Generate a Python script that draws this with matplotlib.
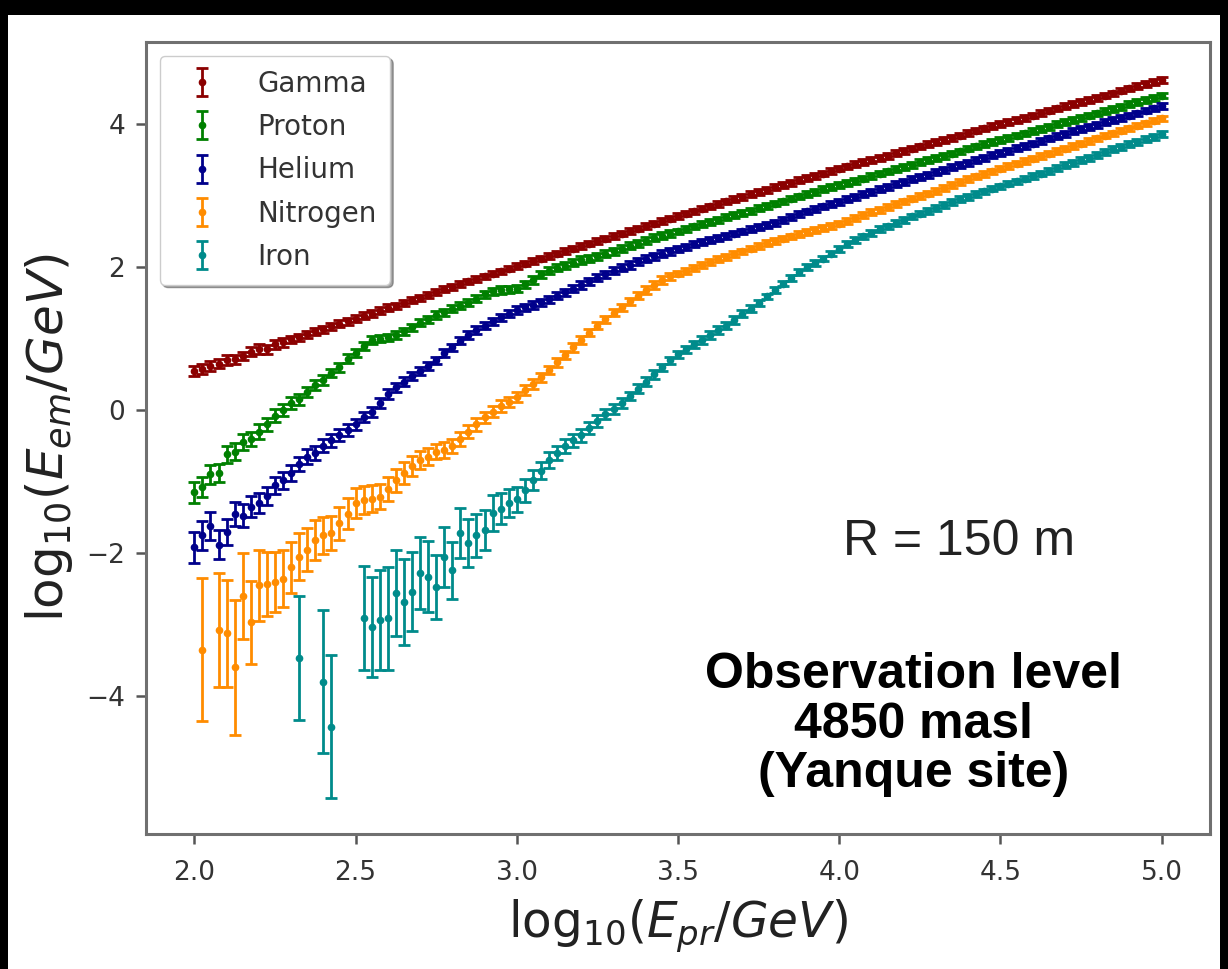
import numpy as np
import matplotlib
matplotlib.use("Agg")
import matplotlib.pyplot as plt
from matplotlib.patches import Rectangle

nan = np.nan

# energy bins (log10 of primary energy)
log_E_pr = np.round(np.linspace(2.0, 5.0, 121), 3)

gamma = [
    0.55, 0.58, 0.62, 0.65, 0.70, 0.71, 0.76, 0.82, 0.86, 0.85, 0.92, 0.95, 0.99, 1.02, 1.06, 1.10, 1.13, 1.17, 1.21, 1.24,
    1.28, 1.32, 1.35, 1.39, 1.43, 1.46, 1.50, 1.54, 1.57, 1.61, 1.65, 1.69, 1.72, 1.76, 1.80, 1.83, 1.87, 1.91, 1.94, 1.98,
    2.02, 2.05, 2.09, 2.12, 2.16, 2.19, 2.23, 2.26, 2.30, 2.33, 2.37, 2.40, 2.44, 2.47, 2.51, 2.54, 2.58, 2.61, 2.65, 2.68,
    2.72, 2.75, 2.78, 2.82, 2.85, 2.88, 2.92, 2.95, 2.98, 3.02, 3.05, 3.08, 3.12, 3.15, 3.18, 3.22, 3.25, 3.28, 3.31, 3.35,
    3.38, 3.41, 3.44, 3.47, 3.50, 3.53, 3.56, 3.60, 3.63, 3.66, 3.69, 3.72, 3.75, 3.78, 3.81, 3.84, 3.88, 3.91, 3.94, 3.97,
    4.00, 4.03, 4.06, 4.09, 4.12, 4.16, 4.19, 4.22, 4.25, 4.28, 4.31, 4.34, 4.37, 4.40, 4.43, 4.47, 4.50, 4.53, 4.56, 4.59,
    4.62,
]
gamma_err = [
    0.07, 0.07, 0.07, 0.06, 0.07, 0.06, 0.06, 0.06, 0.07, 0.06, 0.06, 0.06, 0.05, 0.05, 0.05, 0.05, 0.05, 0.05, 0.05, 0.05,
    0.05, 0.05, 0.05, 0.05, 0.05, 0.04, 0.04, 0.04, 0.04, 0.04, 0.04, 0.04, 0.04, 0.04, 0.04, 0.04, 0.04, 0.04, 0.04, 0.04,
    0.04, 0.04, 0.04, 0.04, 0.04, 0.04, 0.04, 0.04, 0.04, 0.04, 0.04, 0.04, 0.04, 0.04, 0.04, 0.04, 0.04, 0.04, 0.04, 0.04,
    0.04, 0.04, 0.04, 0.04, 0.04, 0.04, 0.04, 0.04, 0.04, 0.04, 0.04, 0.04, 0.04, 0.04, 0.04, 0.04, 0.04, 0.04, 0.04, 0.04,
    0.04, 0.04, 0.04, 0.04, 0.04, 0.04, 0.04, 0.04, 0.04, 0.04, 0.04, 0.04, 0.04, 0.04, 0.04, 0.04, 0.04, 0.04, 0.04, 0.04,
    0.04, 0.04, 0.04, 0.04, 0.04, 0.04, 0.04, 0.04, 0.04, 0.04, 0.04, 0.04, 0.04, 0.04, 0.04, 0.04, 0.04, 0.04, 0.04, 0.04,
    0.04,
]

proton = [
    -1.15, -1.08, -0.90, -0.88, -0.62, -0.58, -0.45, -0.40, -0.30, -0.20, -0.08, 0.00, 0.10, 0.15, 0.25, 0.35, 0.42, 0.52, 0.60, 0.72,
    0.80, 0.90, 0.98, 1.00, 1.02, 1.05, 1.10, 1.16, 1.22, 1.27, 1.33, 1.37, 1.42, 1.46, 1.50, 1.56, 1.62, 1.66, 1.68, 1.69,
    1.70, 1.76, 1.82, 1.90, 1.95, 1.99, 2.02, 2.06, 2.10, 2.12, 2.15, 2.19, 2.22, 2.26, 2.30, 2.33, 2.37, 2.41, 2.44, 2.47,
    2.50, 2.53, 2.57, 2.60, 2.63, 2.66, 2.70, 2.73, 2.76, 2.79, 2.83, 2.86, 2.89, 2.92, 2.96, 2.99, 3.02, 3.05, 3.09, 3.12,
    3.15, 3.18, 3.21, 3.24, 3.28, 3.31, 3.34, 3.37, 3.40, 3.43, 3.47, 3.50, 3.53, 3.56, 3.59, 3.62, 3.66, 3.69, 3.72, 3.75,
    3.78, 3.81, 3.84, 3.87, 3.90, 3.93, 3.96, 4.00, 4.03, 4.06, 4.09, 4.12, 4.15, 4.18, 4.21, 4.24, 4.28, 4.31, 4.34, 4.37,
    4.40,
]
proton_err = [
    0.15, 0.14, 0.13, 0.13, 0.12, 0.12, 0.11, 0.10, 0.10, 0.09, 0.09, 0.08, 0.08, 0.08, 0.07, 0.07, 0.07, 0.06, 0.06, 0.06,
    0.06, 0.06, 0.05, 0.05, 0.05, 0.05, 0.05, 0.05, 0.05, 0.05, 0.05, 0.05, 0.05, 0.05, 0.05, 0.05, 0.05, 0.05, 0.05, 0.05,
    0.05, 0.05, 0.05, 0.05, 0.05, 0.05, 0.05, 0.05, 0.05, 0.05, 0.05, 0.05, 0.05, 0.05, 0.05, 0.05, 0.05, 0.05, 0.05, 0.05,
    0.04, 0.04, 0.04, 0.04, 0.04, 0.04, 0.04, 0.04, 0.04, 0.04, 0.04, 0.04, 0.04, 0.04, 0.04, 0.04, 0.04, 0.04, 0.04, 0.04,
    0.04, 0.04, 0.04, 0.04, 0.04, 0.04, 0.04, 0.04, 0.04, 0.04, 0.04, 0.04, 0.04, 0.04, 0.04, 0.04, 0.04, 0.04, 0.04, 0.04,
    0.04, 0.04, 0.04, 0.04, 0.04, 0.04, 0.04, 0.04, 0.04, 0.04, 0.04, 0.04, 0.04, 0.04, 0.04, 0.04, 0.04, 0.04, 0.04, 0.04,
    0.04,
]

helium = [
    -1.92, -1.75, -1.62, -1.88, -1.70, -1.45, -1.48, -1.35, -1.30, -1.20, -1.05, -0.98, -0.88, -0.75, -0.65, -0.60, -0.50, -0.42, -0.35, -0.28,
    -0.20, -0.10, -0.02, 0.10, 0.22, 0.32, 0.40, 0.48, 0.55, 0.62, 0.70, 0.80, 0.88, 0.97, 1.05, 1.12, 1.18, 1.24, 1.30, 1.35,
    1.40, 1.44, 1.47, 1.51, 1.55, 1.60, 1.65, 1.70, 1.75, 1.80, 1.85, 1.90, 1.95, 1.99, 2.03, 2.08, 2.12, 2.15, 2.19, 2.22,
    2.25, 2.28, 2.32, 2.35, 2.38, 2.41, 2.44, 2.47, 2.50, 2.53, 2.56, 2.59, 2.62, 2.66, 2.70, 2.74, 2.78, 2.81, 2.85, 2.88,
    2.91, 2.95, 2.98, 3.02, 3.05, 3.09, 3.12, 3.16, 3.19, 3.23, 3.26, 3.29, 3.33, 3.36, 3.40, 3.43, 3.46, 3.50, 3.53, 3.57,
    3.60, 3.63, 3.67, 3.70, 3.73, 3.76, 3.80, 3.83, 3.86, 3.90, 3.93, 3.96, 3.99, 4.03, 4.06, 4.09, 4.12, 4.15, 4.19, 4.22,
    4.25,
]
helium_err = [
    0.22, 0.20, 0.19, 0.20, 0.18, 0.17, 0.16, 0.15, 0.14, 0.13, 0.12, 0.12, 0.11, 0.10, 0.10, 0.10, 0.09, 0.09, 0.08, 0.08,
    0.08, 0.07, 0.07, 0.07, 0.07, 0.06, 0.06, 0.06, 0.06, 0.06, 0.05, 0.05, 0.05, 0.05, 0.05, 0.05, 0.05, 0.05, 0.05, 0.05,
    0.05, 0.05, 0.05, 0.05, 0.05, 0.05, 0.05, 0.05, 0.05, 0.05, 0.05, 0.05, 0.05, 0.05, 0.05, 0.05, 0.05, 0.05, 0.05, 0.05,
    0.04, 0.04, 0.04, 0.04, 0.04, 0.04, 0.04, 0.04, 0.04, 0.04, 0.04, 0.04, 0.04, 0.04, 0.04, 0.04, 0.04, 0.04, 0.04, 0.04,
    0.04, 0.04, 0.04, 0.04, 0.04, 0.04, 0.04, 0.04, 0.04, 0.04, 0.04, 0.04, 0.04, 0.04, 0.04, 0.04, 0.04, 0.04, 0.04, 0.04,
    0.04, 0.04, 0.04, 0.04, 0.04, 0.04, 0.04, 0.04, 0.04, 0.04, 0.04, 0.04, 0.04, 0.04, 0.04, 0.04, 0.04, 0.04, 0.04, 0.04,
    0.04,
]

nitrogen = [
    nan, -3.35, nan, -3.08, -3.12, -3.60, -2.60, -2.97, -2.45, -2.43, -2.40, -2.36, -2.20, -2.05, -1.95, -1.82, -1.75, -1.72, -1.58, -1.45,
    -1.30, -1.26, -1.24, -1.21, -1.10, -0.98, -0.88, -0.78, -0.70, -0.65, -0.58, -0.56, -0.50, -0.40, -0.30, -0.20, -0.10, -0.02, 0.06, 0.12,
    0.18, 0.28, 0.37, 0.46, 0.56, 0.67, 0.77, 0.88, 0.98, 1.08, 1.18, 1.27, 1.36, 1.44, 1.52, 1.60, 1.68, 1.75, 1.82, 1.87,
    1.91, 1.95, 1.99, 2.03, 2.07, 2.11, 2.14, 2.18, 2.22, 2.26, 2.30, 2.34, 2.37, 2.40, 2.43, 2.46, 2.49, 2.52, 2.55, 2.58,
    2.61, 2.65, 2.69, 2.73, 2.77, 2.80, 2.84, 2.88, 2.92, 2.96, 3.00, 3.03, 3.07, 3.11, 3.15, 3.19, 3.23, 3.27, 3.30, 3.34,
    3.38, 3.42, 3.45, 3.49, 3.52, 3.56, 3.59, 3.63, 3.66, 3.70, 3.73, 3.77, 3.80, 3.84, 3.87, 3.91, 3.94, 3.98, 4.01, 4.05,
    4.08,
]
nitrogen_err = [
    nan, 1.00, nan, 0.80, 0.75, 0.95, 0.60, 0.58, 0.50, 0.45, 0.42, 0.40, 0.36, 0.33, 0.30, 0.28, 0.26, 0.24, 0.23, 0.22,
    0.21, 0.20, 0.19, 0.18, 0.17, 0.16, 0.15, 0.14, 0.13, 0.12, 0.11, 0.11, 0.10, 0.10, 0.09, 0.09, 0.08, 0.08, 0.08, 0.07,
    0.07, 0.07, 0.07, 0.06, 0.06, 0.06, 0.06, 0.06, 0.05, 0.05, 0.05, 0.05, 0.05, 0.05, 0.05, 0.05, 0.05, 0.05, 0.05, 0.05,
    0.04, 0.04, 0.04, 0.04, 0.04, 0.04, 0.04, 0.04, 0.04, 0.04, 0.04, 0.04, 0.04, 0.04, 0.04, 0.04, 0.04, 0.04, 0.04, 0.04,
    0.04, 0.04, 0.04, 0.04, 0.04, 0.04, 0.04, 0.04, 0.04, 0.04, 0.04, 0.04, 0.04, 0.04, 0.04, 0.04, 0.04, 0.04, 0.04, 0.04,
    0.04, 0.04, 0.04, 0.04, 0.04, 0.04, 0.04, 0.04, 0.04, 0.04, 0.04, 0.04, 0.04, 0.04, 0.04, 0.04, 0.04, 0.04, 0.04, 0.04,
    0.04,
]

iron = [
    nan, nan, nan, nan, nan, nan, nan, nan, nan, nan, nan, nan, nan, -3.47, nan, nan, -3.80, -4.43, nan, nan,
    nan, -2.91, -3.03, -2.94, -2.91, -2.56, -2.68, -2.54, -2.28, -2.33, -2.47, -2.05, -2.24, -1.72, -1.86, -1.75, -1.68, -1.44, -1.38, -1.30,
    -1.25, -1.12, -0.98, -0.85, -0.70, -0.60, -0.50, -0.42, -0.35, -0.25, -0.15, -0.06, 0.02, 0.10, 0.20, 0.30, 0.40, 0.50, 0.60, 0.70,
    0.78, 0.85, 0.92, 0.98, 1.05, 1.12, 1.18, 1.26, 1.35, 1.42, 1.50, 1.59, 1.68, 1.77, 1.85, 1.93, 2.00, 2.06, 2.12, 2.19,
    2.25, 2.32, 2.38, 2.43, 2.48, 2.53, 2.57, 2.62, 2.66, 2.71, 2.75, 2.79, 2.83, 2.87, 2.91, 2.95, 2.98, 3.02, 3.06, 3.10,
    3.13, 3.17, 3.20, 3.24, 3.28, 3.31, 3.35, 3.39, 3.43, 3.46, 3.50, 3.53, 3.57, 3.61, 3.65, 3.68, 3.72, 3.75, 3.79, 3.82,
    3.86,
]
iron_err = [
    nan, nan, nan, nan, nan, nan, nan, nan, nan, nan, nan, nan, nan, 0.87, nan, nan, 1.00, 1.00, nan, nan,
    nan, 0.73, 0.70, 0.70, 0.72, 0.60, 0.60, 0.55, 0.50, 0.50, 0.45, 0.42, 0.40, 0.35, 0.33, 0.30, 0.28, 0.25, 0.22, 0.20,
    0.18, 0.16, 0.14, 0.12, 0.11, 0.10, 0.10, 0.09, 0.09, 0.08, 0.08, 0.07, 0.07, 0.07, 0.06, 0.06, 0.06, 0.06, 0.05, 0.05,
    0.05, 0.05, 0.05, 0.05, 0.05, 0.05, 0.05, 0.05, 0.05, 0.05, 0.04, 0.04, 0.04, 0.04, 0.04, 0.04, 0.04, 0.04, 0.04, 0.04,
    0.04, 0.04, 0.04, 0.04, 0.04, 0.04, 0.04, 0.04, 0.04, 0.04, 0.04, 0.04, 0.04, 0.04, 0.04, 0.04, 0.04, 0.04, 0.04, 0.04,
    0.04, 0.04, 0.04, 0.04, 0.04, 0.04, 0.04, 0.04, 0.04, 0.04, 0.04, 0.04, 0.04, 0.04, 0.04, 0.04, 0.04, 0.04, 0.04, 0.04,
    0.04,
]

labels = ["Gamma", "Proton", "Helium", "Nitrogen", "Iron"]
colors = ["#8b0000", "#008000", "#00008b", "#ff8c00", "#008b8b"]
values = [gamma, proton, helium, nitrogen, iron]
errors = [gamma_err, proton_err, helium_err, nitrogen_err, iron_err]

x_ticks = [2.0, 2.5, 3.0, 3.5, 4.0, 4.5, 5.0]
y_ticks = [-4, -2, 0, 2, 4]

W, H = 1228, 969
fig = plt.figure(figsize=(W / 100, H / 100), dpi=100, facecolor="black")
fig.patches.append(Rectangle((8 / W, 0), 1212 / W, 954 / H, transform=fig.transFigure,
                             facecolor="white", edgecolor="none", zorder=-1))
ax = fig.add_axes([146 / W, 1 - 834 / H, 1064 / W, 792 / H])
ax.set_facecolor("white")

for lab, y, e, c in zip(labels, values, errors, colors):
    ax.errorbar(log_E_pr, y, yerr=e, fmt="o", color=c, ms=4.5, capsize=4.5,
                elinewidth=2.0, capthick=2.0, label=lab)

ax.set_xlim(1.85, 5.15)
ax.set_ylim(-5.93, 5.15)
ax.set_xticks(x_ticks)
ax.set_xticklabels([f"{t:.1f}" for t in x_ticks])
ax.set_yticks(y_ticks)
ax.tick_params(labelsize=19, length=7, width=1.8, color="#555555", labelcolor="#333333")
ax.tick_params(axis="x", pad=12)
ax.tick_params(axis="y", pad=8)
for s in ax.spines.values():
    s.set_color("#707070")
    s.set_linewidth(2.2)

ax.set_xlabel(r"$\mathrm{log}_{10}(E_{pr}/GeV)$", fontsize=35, color="#222222", labelpad=8)
ax.set_ylabel(r"$\mathrm{log}_{10}(E_{em}/GeV)$", fontsize=36, color="#222222", labelpad=8)

leg = ax.legend(loc="upper left", fontsize=20, shadow=True, fancybox=True, framealpha=1,
                edgecolor="#cccccc", labelspacing=0.55, handletextpad=1.0, borderpad=0.5)
for t in leg.get_texts():
    t.set_color("#333333")

ax.text(0.764, 0.369, "R = 150 m", transform=ax.transAxes, ha="center", va="center",
        fontsize=36, family="Liberation Sans", color="#222222")
ax.text(0.721, 0.138, "Observation level\n4850 masl\n(Yanque site)", transform=ax.transAxes,
        ha="center", va="center", multialignment="center", fontsize=36,
        family="Liberation Sans", fontweight="bold", color="black", linespacing=1.1)

fig.savefig("out.png", dpi=100, facecolor=fig.get_facecolor())
